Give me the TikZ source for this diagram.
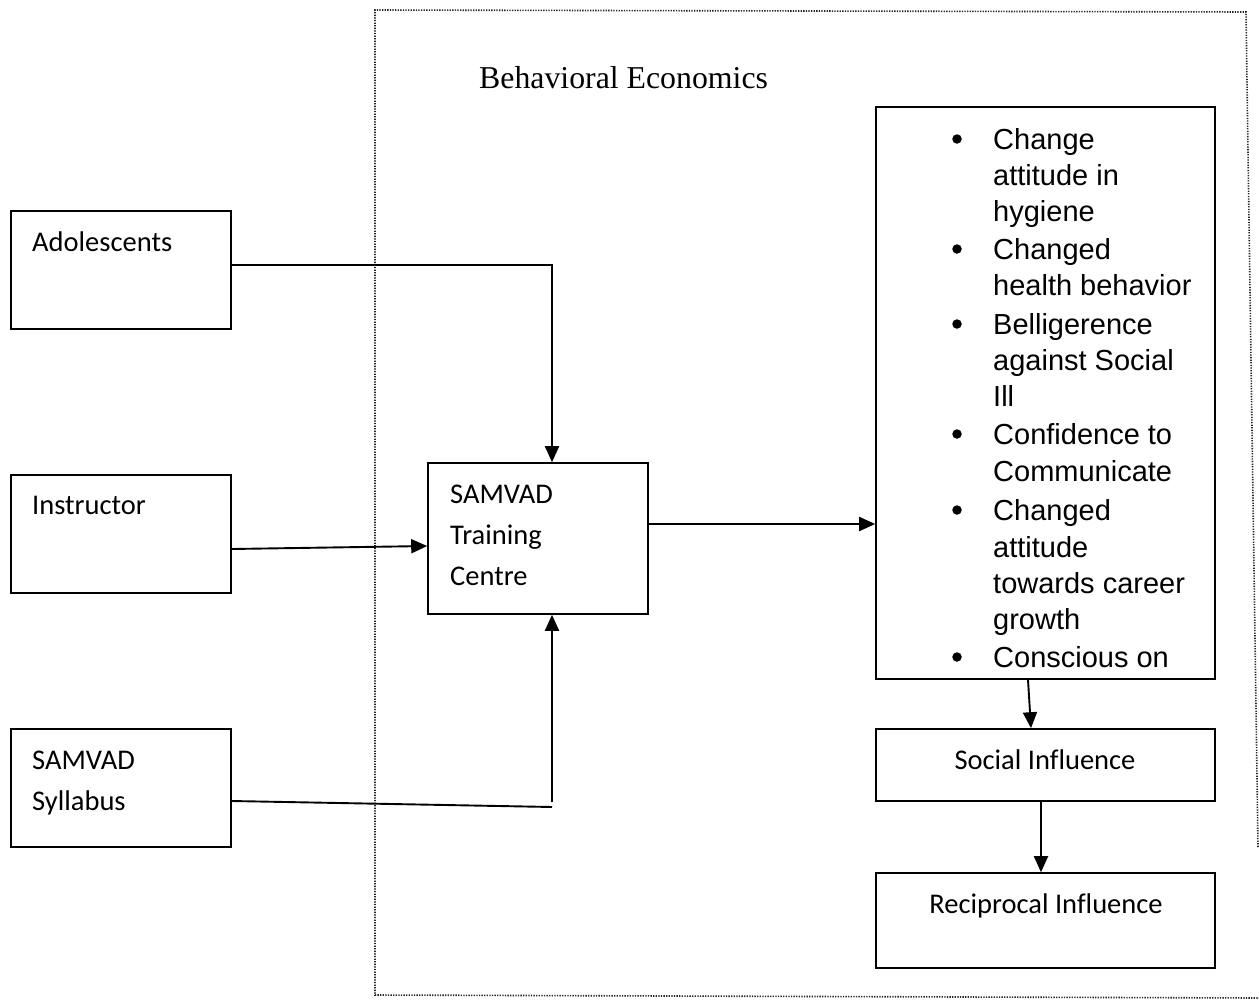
\documentclass[tikz,border=0pt]{standalone}
\usepackage{fontspec}
\setmainfont{Liberation Serif}
\newfontfamily\carlitof[Ligatures={NoCommon}]{Carlito}
\newfontfamily\arialf{Liberation Sans}
\usetikzlibrary{arrows.meta}
\begin{document}
\begin{tikzpicture}[x=1pt,y=-1pt,
  box/.style={draw, line width=1.6pt, inner sep=0pt},
  lbl/.style={anchor=base west, inner sep=0pt, font=\carlitof\fontsize{28.5}{34}\selectfont},
  clbl/.style={anchor=base, inner sep=0pt, font=\carlitof\fontsize{28.5}{34}\selectfont},
  itm/.style={anchor=base west, inner sep=0pt, font=\arialf\fontsize{29}{35}\selectfont},
  dot/.style={circle, fill, inner sep=0pt, minimum size=9.5pt},
  arr/.style={line width=1.9pt, -{Triangle[length=16pt,width=14pt]}},
  ln/.style={line width=1.9pt},
  frame/.style={line width=1.6pt, dash pattern=on 1.3pt off 1.3pt, black!85}
]
\useasboundingbox (0,0) rectangle (1259,1007);
% dotted frame
\draw[frame] (1258,847) -- (1246,12) -- (375,10) -- (375,995) -- (1259,998);
\node[anchor=base west, inner sep=0pt, font=\fontsize{31.8}{36}\selectfont] (title) at (479,88) {Behavioral Economics};

% boxes
\node[box, minimum width=220pt, minimum height=118pt] (ado) at (121,270) {};
\node[box, minimum width=220pt, minimum height=118pt] (ins) at (121,534) {};
\node[box, minimum width=220pt, minimum height=118pt] (syl) at (121,788) {};
\node[box, minimum width=220pt, minimum height=151pt] (trc) at (538,538.5) {};
\node[box, minimum width=339pt, minimum height=572pt] (out) at (1045.5,393) {};
\node[box, minimum width=339pt, minimum height=72pt] (soc) at (1045.5,765) {};
\node[box, minimum width=339pt, minimum height=95pt] (rec) at (1045.5,920.5) {};

% box texts
\node[lbl] (tado) at (32,251) {Adolescents};
\node[lbl] (tins) at (32,514) {Instructor};
\node[lbl] (tsyl1) at (32,769) {SAMVAD};
\node[lbl] (tsyl2) at (32,810) {Syllabus};
\node[lbl] (ttrc1) at (450,503) {SAMVAD};
\node[lbl] (ttrc2) at (450,544) {Training};
\node[lbl] (ttrc3) at (450,585) {Centre};
\node[clbl] (tsoc) at (1045,769) {Social Influence};
\node[clbl] (trec) at (1046,913) {Reciprocal Influence};

% bullet list
\foreach \t/\y [count=\i] in {Change/149, attitude in/185, hygiene/221, Changed/259,
  health behavior/295, Belligerence/334, against Social/370, Ill/406, Confidence to/444,
  Communicate/481, Changed/520, attitude/557, towards career/593, growth/629, Conscious on/667}
  \node[itm] (l\i) at (993,\y) {\t};
\foreach \y [count=\i] in {149,259,334,444,520,667}
  \node[dot] (d\i) at (957,\y-10) {};

% connectors
\draw[arr] ([yshift=5pt]ado.east) -| ([xshift=14pt]trc.north);
\draw[arr] ([yshift=-15pt]ins.east) -- ([yshift=-7.5pt]trc.west);
\coordinate (sylend) at (552,807);
\coordinate (sylup) at (552,802);
\draw[ln] ([yshift=-13pt]syl.east) -- (sylend);
\draw[arr] (sylup) -- ([xshift=14pt]trc.south);
\coordinate (tc1) at ([yshift=14.5pt]trc.east);
\draw[arr] (tc1) -- (tc1 -| out.west);
\draw[arr] ([xshift=-17.5pt]out.south) -- ([xshift=-14.5pt]soc.north);
\draw[arr] ([xshift=-4.5pt]soc.south) -- ([xshift=-4.5pt]rec.north);
\end{tikzpicture}
\end{document}
